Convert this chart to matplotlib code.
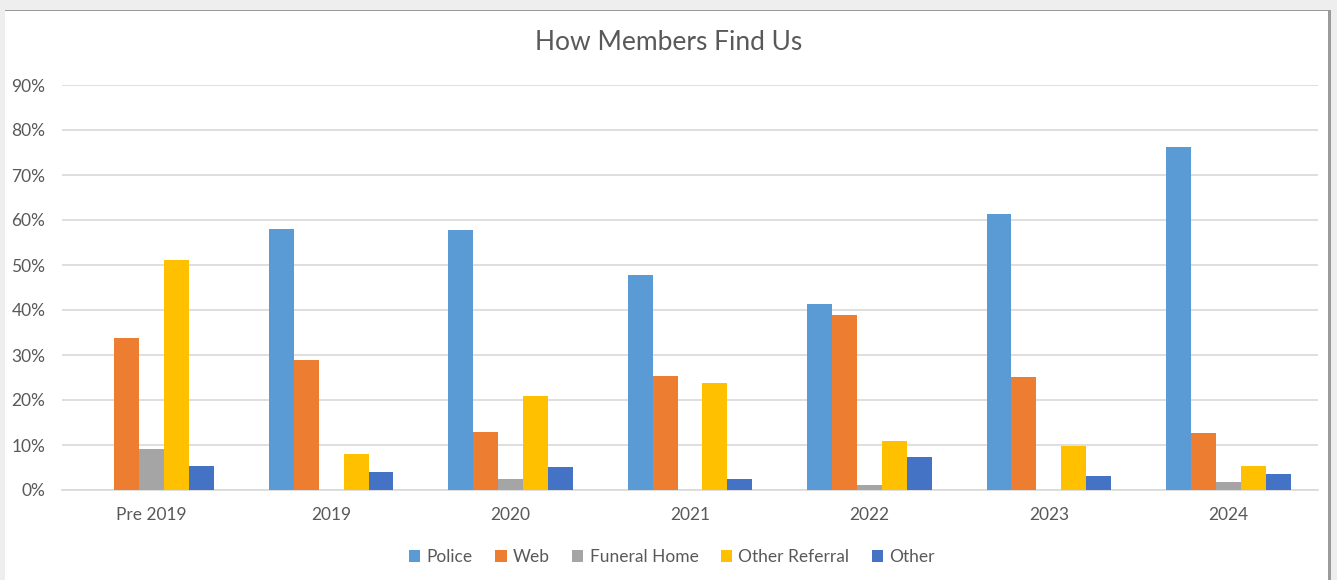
import numpy as np
import matplotlib
matplotlib.use('Agg')
import matplotlib.pyplot as plt
from matplotlib.patches import Rectangle

plt.rcParams['font.family'] = ['Lato', 'DejaVu Sans']

# Data (percent)
categories = ['Pre 2019', '2019', '2020', '2021', '2022', '2023', '2024']
police = [0, 58.1, 57.8, 47.8, 41.3, 61.4, 76.3]
web = [33.8, 29.0, 13.0, 25.3, 38.9, 25.1, 12.6]
funeral_home = [9.1, 0, 2.4, 0, 1.1, 0, 1.7]
other_referral = [51.1, 8.1, 21.0, 23.8, 10.9, 9.8, 5.3]
other = [5.3, 4.1, 5.2, 2.4, 7.3, 3.1, 3.6]

series = [('Police', police, '#5B9BD5'),
          ('Web', web, '#ED7D31'),
          ('Funeral Home', funeral_home, '#A5A5A5'),
          ('Other Referral', other_referral, '#FFC000'),
          ('Other', other, '#4472C4')]

txt = '#595959'

fig = plt.figure(figsize=(13.37, 5.8), dpi=100, facecolor='#eeeeee')
# white chart area with a thin shadow
fig.patches.append(Rectangle((5/1337, 0), 1326/1337, 570/580, transform=fig.transFigure,
                             facecolor='#9a9a9a', edgecolor='none', zorder=-2))
fig.patches.append(Rectangle((5/1337, 0), 1323/1337, 569/580, transform=fig.transFigure,
                             facecolor='white', edgecolor='none', zorder=-1))

ax = fig.add_axes([62/1337, 1 - 490/580, 1256/1337, 405/580])
ax.set_facecolor('none')

x = np.arange(len(categories))
w = 0.139
for i, (name, vals, col) in enumerate(series):
    ax.bar(x + (i - 2) * w, vals, w, color=col, label=name, zorder=3)

ax.set_xlim(-0.5, len(categories) - 0.5)
ax.set_ylim(0, 90)
ax.set_yticks(np.arange(0, 91, 10))
ax.set_yticklabels([f'{v}%' for v in range(0, 91, 10)])
ax.set_xticks(x)
ax.set_xticklabels(categories)
ax.yaxis.grid(True, color='#d9d9d9', linewidth=1.2, zorder=0)
ax.set_axisbelow(True)
for s in ['top', 'right', 'left']:
    ax.spines[s].set_visible(False)
ax.spines['bottom'].set_color('#d9d9d9')
ax.spines['bottom'].set_linewidth(1.2)
ax.tick_params(axis='both', length=0, colors=txt, labelsize=12.5)
ax.tick_params(axis='y', pad=12)
ax.tick_params(axis='x', pad=12)

fig.text(669/1337, 1 - 43/580, 'How Members Find Us', ha='center', va='center',
         fontsize=19, color=txt)

fig.legend(loc='center', bbox_to_anchor=(672/1337, 1 - 557/580), ncol=5, frameon=False,
           handlelength=0.65, handleheight=0.65, handletextpad=0.35, columnspacing=1.3,
           fontsize=12.5, labelcolor=txt)

fig.savefig('out.png', dpi=100, facecolor=fig.get_facecolor())
